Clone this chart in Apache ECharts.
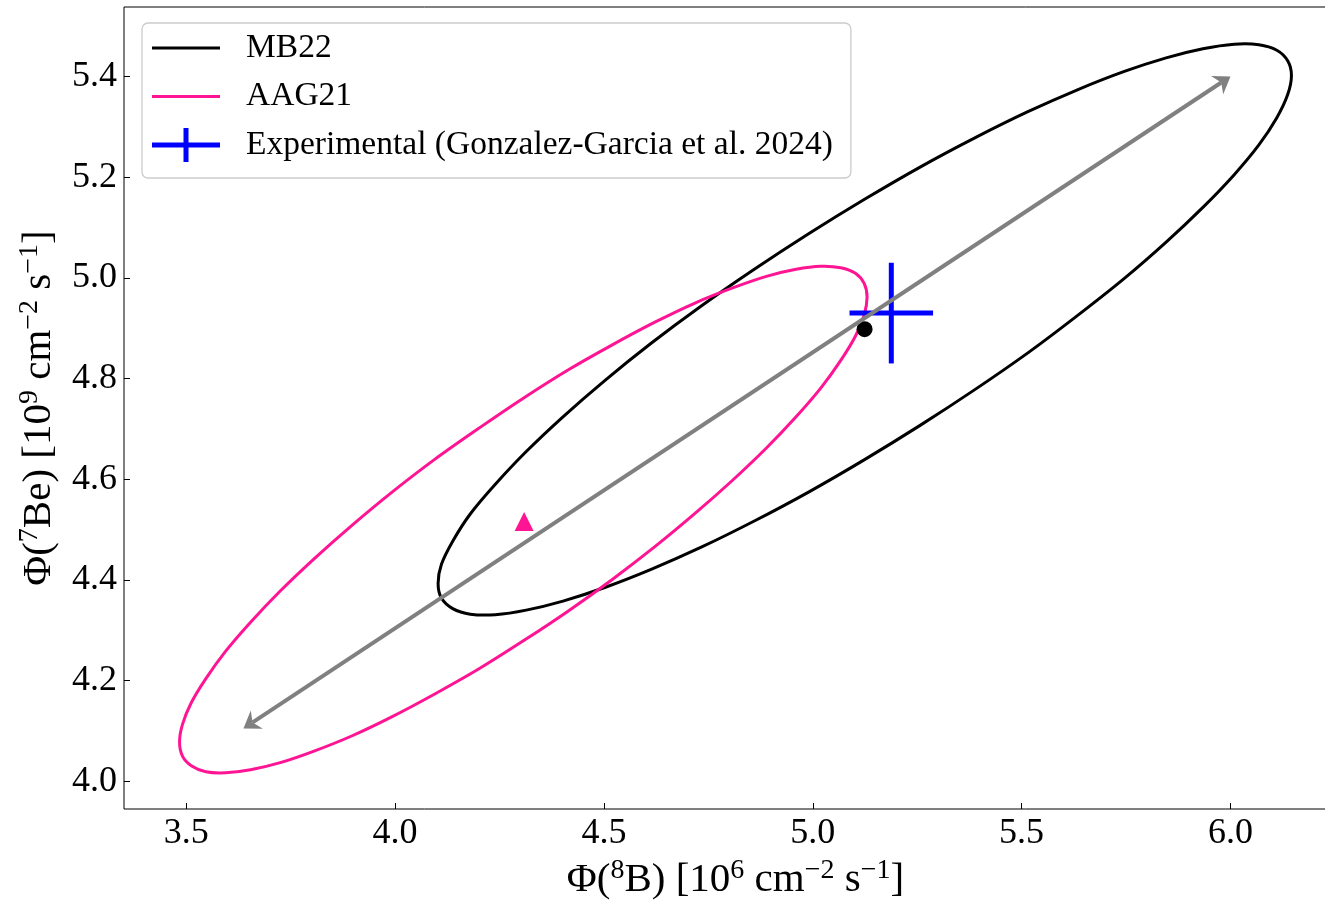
<!DOCTYPE html>
<html><head><meta charset="utf-8">
<script src="https://cdn.jsdelivr.net/npm/echarts@6/dist/echarts.min.js"></script>
<style>html,body{margin:0;padding:0;background:#fff}#c{width:1325px;height:902px}</style>
</head><body><div id="c"></div>
<script>
// ---- data ----
const xTicks = [3.5, 4.0, 4.5, 5.0, 5.5, 6.0];
const yTicks = [4.0, 4.2, 4.4, 4.6, 4.8, 5.0, 5.2, 5.4];
const xRange = [3.351, 6.279];
const yRange = [3.945, 5.538];

// MB22 1-sigma contour
const mb22Contour = [
  [5.124, 4.639], [4.991, 4.575], [4.860, 4.517], [4.733, 4.465], [4.613, 4.421], [4.502, 4.385],
  [4.402, 4.358], [4.314, 4.340], [4.240, 4.331], [4.180, 4.332], [4.138, 4.343], [4.111, 4.364],
  [4.103, 4.393], [4.111, 4.431], [4.138, 4.477], [4.180, 4.531], [4.240, 4.590], [4.314, 4.655],
  [4.402, 4.724], [4.502, 4.796], [4.613, 4.870], [4.733, 4.944], [4.860, 5.017], [4.991, 5.088],
  [5.124, 5.156], [5.257, 5.220], [5.388, 5.278], [5.515, 5.330], [5.635, 5.374], [5.746, 5.410],
  [5.846, 5.437], [5.934, 5.455], [6.009, 5.464], [6.068, 5.463], [6.111, 5.452], [6.137, 5.431],
  [6.146, 5.402], [6.137, 5.364], [6.111, 5.318], [6.068, 5.264], [6.009, 5.205], [5.934, 5.140],
  [5.846, 5.071], [5.746, 4.999], [5.635, 4.926], [5.515, 4.851], [5.388, 4.778], [5.257, 4.707]
];
// AAG21 1-sigma contour
const aag21Contour = [
  [4.307, 4.279], [4.200, 4.223], [4.094, 4.173], [3.992, 4.128], [3.896, 4.090], [3.806, 4.060],
  [3.725, 4.037], [3.654, 4.023], [3.594, 4.017], [3.547, 4.019], [3.512, 4.031], [3.491, 4.050],
  [3.484, 4.078], [3.491, 4.113], [3.512, 4.156], [3.547, 4.204], [3.594, 4.258], [3.654, 4.316],
  [3.725, 4.378], [3.806, 4.442], [3.896, 4.508], [3.992, 4.574], [4.094, 4.639], [4.200, 4.701],
  [4.307, 4.761], [4.414, 4.817], [4.520, 4.867], [4.622, 4.912], [4.718, 4.950], [4.808, 4.980],
  [4.889, 5.003], [4.960, 5.017], [5.020, 5.023], [5.067, 5.020], [5.102, 5.009], [5.123, 4.989],
  [5.130, 4.962], [5.123, 4.926], [5.102, 4.884], [5.067, 4.836], [5.020, 4.782], [4.960, 4.724],
  [4.889, 4.662], [4.808, 4.598], [4.718, 4.532], [4.622, 4.466], [4.520, 4.401], [4.414, 4.338]
];
const mb22Centre = [5.124, 4.898];
const aag21Centre = [4.309, 4.516];
// [x, y, xerr, yerr]
const experimental = [5.188, 4.930, 0.10, 0.10];
const arrowStart = [3.637, 4.105];
const arrowEnd = [6.000, 5.400];

const seriesNames = ['MB22', 'AAG21', 'Experimental (Gonzalez-Garcia et al. 2024)'];

// ---- chart ----
const FONT = '"Liberation Serif", "DejaVu Serif", serif';
const lineIcon = 'path://M0,0H68V3H0Z';
const crossIcon = 'path://M0,14.5H31.5V0H36.5V14.5H68V19.5H36.5V34H31.5V19.5H0Z';

function contourRenderer(color) {
  return function (params, api) {
    if (params.dataIndexInside !== 0) return null;
    const pts = [];
    for (let i = 0; i < params.dataInsideLength; i++) {
      pts.push(api.coord([api.value(0, i), api.value(1, i)]));
    }
    return {type: 'polygon', shape: {points: pts, smooth: 0.33},
            style: {fill: 'none', stroke: color, lineWidth: 3, lineJoin: 'round'}};
  };
}

function arrowRenderer(params, api) {
  const s = api.coord([api.value(0), api.value(1)]);
  const e = api.coord([api.value(2), api.value(3)]);
  const dx = e[0] - s[0], dy = e[1] - s[1];
  const len = Math.sqrt(dx * dx + dy * dy);
  const ux = dx / len, uy = dy / len, nx = -uy, ny = ux;
  const L = 16, W = 11, B = 11;
  function head(tip, dir) {
    const bx = tip[0] - dir * L * ux, by = tip[1] - dir * L * uy;
    return [tip, [bx + W * nx, by + W * ny],
            [tip[0] - dir * B * ux, tip[1] - dir * B * uy],
            [bx - W * nx, by - W * ny]];
  }
  const col = '#808080';
  return {type: 'group', children: [
    {type: 'line', shape: {x1: s[0] + B * ux, y1: s[1] + B * uy, x2: e[0] - B * ux, y2: e[1] - B * uy},
     style: {stroke: col, lineWidth: 4}},
    {type: 'polygon', shape: {points: head(e, 1)}, style: {fill: col}},
    {type: 'polygon', shape: {points: head(s, -1)}, style: {fill: col}}
  ]};
}

const chart = echarts.init(document.getElementById('c'), null, {renderer: 'canvas'});
const richTitle = {
  n: {fontFamily: FONT, fontSize: 41, color: '#000', lineHeight: 47},
  s: {fontFamily: FONT, fontSize: 28, color: '#000', lineHeight: 28, verticalAlign: 'top'}
};

chart.setOption({
  animation: false,
  backgroundColor: '#fff',
  grid: {left: 124, top: 7, right: -22, bottom: 93, outerBoundsMode: 'none', containLabel: false,
         show: true, borderColor: '#000', borderWidth: 1, backgroundColor: 'transparent'},
  legend: {
    orient: 'vertical', left: 142, top: 23, selectedMode: false,
    padding: [8, 18, 16, 10],
    itemWidth: 68, itemHeight: 34, itemGap: 14.5,
    backgroundColor: 'rgba(255,255,255,0.8)', borderColor: '#cccccc', borderWidth: 1.3, borderRadius: 6,
    textStyle: {fontFamily: FONT, fontSize: 33.5, color: '#000', lineHeight: 34, padding: [0, 0, 0, 21]},
    data: [
      {name: seriesNames[0], icon: lineIcon},
      {name: seriesNames[1], icon: lineIcon},
      {name: seriesNames[2], icon: crossIcon}
    ]
  },
  xAxis: {
    type: 'value', min: xRange[0], max: xRange[1],
    axisLine: {show: false},
    splitLine: {show: false},
    axisTick: {customValues: xTicks, inside: true, length: 6, lineStyle: {color: '#000', width: 1}},
    axisLabel: {customValues: xTicks, formatter: v => v.toFixed(1), fontFamily: FONT, fontSize: 36, color: '#000', margin: 7},
    name: '{n|Φ(}{s|8}{n|B) [10}{s|6}{n| cm}{s|−2}{n| s}{s|−1}{n|]}',
    nameLocation: 'middle', nameGap: 42,
    nameTextStyle: {rich: richTitle}
  },
  yAxis: {
    type: 'value', min: yRange[0], max: yRange[1],
    axisLine: {show: false},
    splitLine: {show: false},
    axisTick: {customValues: yTicks, inside: true, length: 6, lineStyle: {color: '#000', width: 1}},
    axisLabel: {customValues: yTicks, formatter: v => v.toFixed(1), fontFamily: FONT, fontSize: 36, color: '#000', margin: 7},
    name: '{n|Φ(}{s|7}{n|Be) [10}{s|9}{n| cm}{s|−2}{n| s}{s|−1}{n|]}',
    nameLocation: 'middle', nameRotate: 90, nameGap: 61,
    nameTextStyle: {rich: richTitle}
  },
  series: [
    {
      name: seriesNames[0], type: 'custom', data: mb22Contour, z: 2, silent: true,
      encode: {x: 0, y: 1}, itemStyle: {color: '#000000'},
      renderItem: contourRenderer('#000000')
    },
    {
      name: seriesNames[1], type: 'custom', data: aag21Contour, z: 2, silent: true,
      encode: {x: 0, y: 1}, itemStyle: {color: '#ff1493'},
      renderItem: contourRenderer('#ff1493')
    },
    {
      name: 'MB22 centre', type: 'scatter', data: [mb22Centre], symbol: 'circle', symbolSize: 16, z: 3, silent: true,
      itemStyle: {color: '#000000', opacity: 1}
    },
    {
      name: 'AAG21 centre', type: 'scatter', data: [aag21Centre], symbol: 'triangle', symbolSize: 19, z: 3, silent: true,
      itemStyle: {color: '#ff1493', opacity: 1}
    },
    {
      name: seriesNames[2], type: 'custom', z: 4, silent: true,
      itemStyle: {color: '#0000ff'},
      encode: {x: 0, y: 1},
      data: [experimental],
      renderItem: function (params, api) {
        const x = api.value(0), y = api.value(1), ex = api.value(2), ey = api.value(3);
        const l = api.coord([x - ex, y]), r = api.coord([x + ex, y]);
        const b = api.coord([x, y - ey]), t = api.coord([x, y + ey]);
        const style = {stroke: '#0000ff', lineWidth: 5, fill: 'none'};
        return {type: 'group', children: [
          {type: 'line', shape: {x1: l[0], y1: l[1], x2: r[0], y2: r[1]}, style: style},
          {type: 'line', shape: {x1: b[0], y1: b[1], x2: t[0], y2: t[1]}, style: style}
        ]};
      }
    },
    {
      name: 'arrow', type: 'custom', z: 5, silent: true,
      encode: {x: [0, 2], y: [1, 3]},
      data: [[arrowStart[0], arrowStart[1], arrowEnd[0], arrowEnd[1]]],
      renderItem: arrowRenderer
    }
  ]
});
</script></body></html>
